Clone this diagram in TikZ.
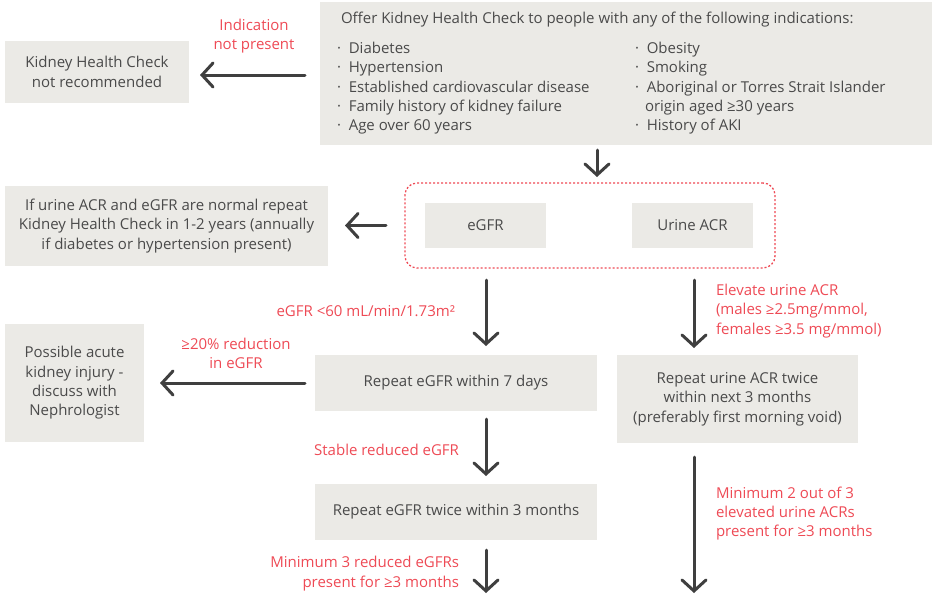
\documentclass[tikz,border=0pt]{standalone}
\usepackage{fontspec}
\setmainfont{Open Sans}
\usetikzlibrary{arrows.meta,calc}
\definecolor{boxgray}{HTML}{EBEAE6}
\definecolor{txtgray}{HTML}{4A4A4A}
\definecolor{lblred}{HTML}{EE4A55}
\definecolor{arrgray}{HTML}{3F3F3F}
\begin{document}
\begin{tikzpicture}[x=1pt,y=-1pt,
  every node/.style={inner sep=0pt, outer sep=0pt, font=\fontsize{15}{19.3}\selectfont},
  box/.style={fill=boxgray, text=txtgray, align=center},
  txt/.style={text=txtgray},
  lbl/.style={text=lblred},
  arr/.style={draw=arrgray, line width=3pt, line cap=round, -{Straight Barb[length=11pt,width=24pt,line cap=round]}},
  grp/.style={draw=lblred, line width=1.3pt, dash pattern=on 2pt off 2pt, rounded corners=12pt}
]
\useasboundingbox (0,0) rectangle (938,600);
% boxes
\node[box, minimum width=612, minimum height=143] (top) at (626,73.5) {};
\node[box, minimum width=184, minimum height=62] (notrec) at (97,72) {Kidney Health Check\\not recommended};
\node[grp, minimum width=370, minimum height=85] (grp) at (590,225.5) {};
\node[box, minimum width=121, minimum height=45] (egfr) at (485.5,225.5) {eGFR};
\node[box, minimum width=121, minimum height=45] (acr) at (692.5,225.5) {Urine ACR};
\node[box, minimum width=323, minimum height=80] (normal) at (166.5,226) {If urine ACR and eGFR are normal repeat\\Kidney Health Check in 1-2 years (annually\\if diabetes or hypertension present)};
\node[box, minimum width=282, minimum height=56] (rep7) at (456,383) {Repeat eGFR within 7 days};
\node[box, minimum width=241, minimum height=88] (repacr) at (737.5,399) {Repeat urine ACR twice\\within next 3 months\\(preferably first morning void)};
\node[box, minimum width=139, minimum height=118] (aki) at (74.5,383) {Possible acute\\kidney injury -\\discuss with\\Nephrologist};
\node[box, minimum width=282, minimum height=56] (rep3) at (456,512) {Repeat eGFR twice within 3 months};
% top box contents
\node[txt, anchor=base west] (t0) at (341,23.5) {Offer Kidney Health Check to people with any of the following indications:};
\node[txt, anchor=base west] (a1) at (337,53.5) {·\ \ Diabetes};
\node[txt, anchor=base west] (a2) at (337,72.8) {·\ \ Hypertension};
\node[txt, anchor=base west] (a3) at (337,92.1) {·\ \ Established cardiovascular disease};
\node[txt, anchor=base west] (a4) at (337,111.4) {·\ \ Family history of kidney failure};
\node[txt, anchor=base west] (a5) at (337,130.7) {·\ \ Age over 60 years};
\node[txt, anchor=base west] (b1) at (635,53.5) {·\ \ Obesity};
\node[txt, anchor=base west] (b2) at (635,72.8) {·\ \ Smoking};
\node[txt, anchor=base west] (b3) at (635,92.1) {·\ \ Aboriginal or Torres Strait Islander};
\node[txt, anchor=base west] (b4) at (645,111.4) {origin aged ≥30 years};
\node[txt, anchor=base west] (b5) at (635,130.7) {·\ \ History of AKI};
% labels
\node[lbl, align=center] (l1) at (254,36) {Indication\\not present};
\node[lbl, anchor=east] (l2) at (455,311) {eGFR <60 mL/min/1.73m²};
\node[lbl, align=center] (l3) at (236,353.5) {≥20\% reduction\\in eGFR};
\node[lbl, align=left, anchor=west] (l4) at (716,311) {Elevate urine ACR\\(males ≥2.5mg/mmol,\\females ≥3.5 mg/mmol)};
\node[lbl, anchor=east] (l5) at (459,450) {Stable reduced eGFR};
\node[lbl, align=right, anchor=east] (l6) at (459,573.5) {Minimum 3 reduced eGFRs\\present for ≥3 months};
\node[lbl, align=left, anchor=west] (l7) at (716,513.5) {Minimum 2 out of 3\\elevated urine ACRs\\present for ≥3 months};
% free ends
\coordinate (endL) at (486,593);
\coordinate (endR) at (694,593);
% connectors
\draw[arr, shorten <=15pt, shorten >=11pt] ($(top.west)+(0,1.5)$) -- ($(top.west -| notrec.east)+(0,1.5)$);
\draw[arr, shorten <=5pt, shorten >=6pt] ([xshift=7pt]grp.north |- top.south) -- ([xshift=7pt]grp.north);
\draw[arr, shorten <=19pt, shorten >=17pt] (grp.west) -- (grp.west -| normal.east);
\draw[arr, shorten <=32pt, shorten >=9pt] ([xshift=0.5pt]egfr.south) -- ([xshift=0.5pt]egfr.south |- rep7.north);
\draw[arr, shorten <=32pt, shorten >=7pt] ([xshift=1.5pt]acr.south) -- ([xshift=1.5pt]acr.south |- repacr.north);
\draw[arr, shorten <=10pt, shorten >=16pt] (rep7.west) -- (rep7.west -| aki.east);
\draw[arr, shorten <=8pt, shorten >=8pt] ([xshift=0.5pt]egfr.south |- rep7.south) -- ([xshift=0.5pt]egfr.south |- rep3.north);
\draw[arr, shorten <=10pt] ([xshift=0.5pt]egfr.south |- rep3.south) -- (endL);
\draw[arr, shorten <=14pt] ([xshift=1.5pt]acr.south |- repacr.south) -- (endR);
\end{tikzpicture}
\end{document}
